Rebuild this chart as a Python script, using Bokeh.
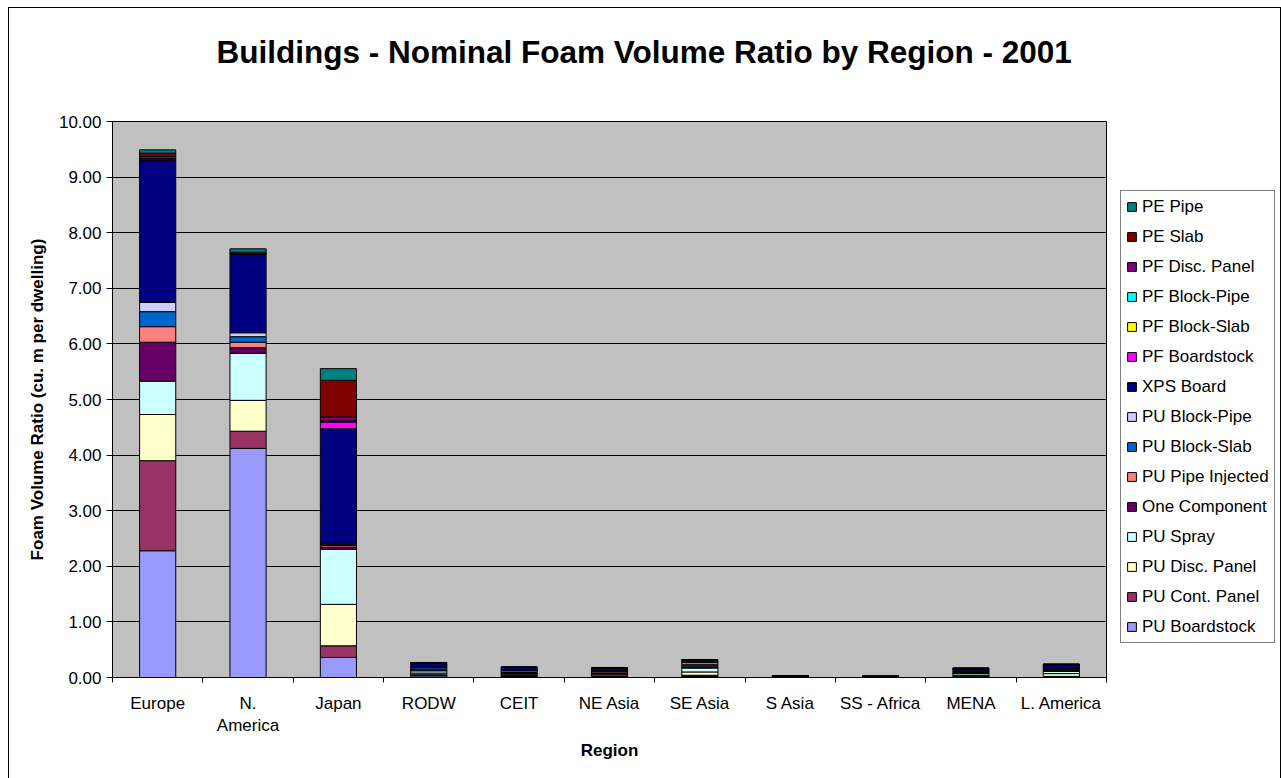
from bokeh.plotting import figure
from bokeh.models import (Legend, LegendItem, FixedTicker, NumeralTickFormatter,
                          Range1d, ColumnDataSource, InlineStyleSheet)
from bokeh.embed import file_html
from bokeh.resources import INLINE

# ---------------- data ----------------
categories = ["Europe", "N. America", "Japan", "RODW", "CEIT", "NE Asia",
              "SE Asia", "S Asia", "SS - Africa", "MENA", "L. America"]
tick_labels = ["Europe", "N.\nAmerica", "Japan", "RODW", "CEIT", "NE Asia",
               "SE Asia", "S Asia", "SS - Africa", "MENA", "L. America"]
chart_title = "Buildings - Nominal Foam Volume Ratio by Region - 2001"

# stack order: bottom -> top
pu_boardstock    = [2.28, 4.12, 0.36, 0.03, 0.02, 0.01, 0.02, 0.005, 0.003, 0.01, 0.01]
pu_cont_panel    = [1.62, 0.31, 0.21, 0.02, 0.02, 0.01, 0.02, 0.003, 0.002, 0.01, 0.01]
pu_disc_panel    = [0.83, 0.555, 0.745, 0.03, 0.01, 0.01, 0.06, 0.005, 0.003, 0.02, 0.05]
pu_spray         = [0.60, 0.845, 0.99, 0.04, 0.02, 0.03, 0.07, 0.005, 0.003, 0.03, 0.04]
one_component    = [0.70, 0.10, 0.04, 0.02, 0.02, 0.01, 0.02, 0.003, 0.002, 0.01, 0.02]
pu_pipe_injected = [0.28, 0.10, 0.03, 0.01, 0.03, 0.03, 0.02, 0.003, 0.002, 0.01, 0.01]
pu_block_slab    = [0.27, 0.10, 0.02, 0.03, 0.01, 0.01, 0.03, 0.003, 0.002, 0.02, 0.02]
pu_block_pipe    = [0.165, 0.07, 0.02, 0.01, 0.01, 0.01, 0.03, 0.002, 0.001, 0.01, 0.01]
xps_board        = [2.555, 1.42, 2.06, 0.07, 0.04, 0.05, 0.04, 0.005, 0.003, 0.04, 0.06]
pf_boardstock    = [0.03, 0.0, 0.12, 0.0, 0.0, 0.0, 0.0, 0.0, 0.0, 0.0, 0.0]
pf_block_slab    = [0.0, 0.0, 0.01, 0.0, 0.0, 0.0, 0.0, 0.0, 0.0, 0.0, 0.0]
pf_block_pipe    = [0.0, 0.0, 0.01, 0.0, 0.0, 0.0, 0.0, 0.0, 0.0, 0.0, 0.0]
pf_disc_panel    = [0.04, 0.0, 0.07, 0.0, 0.0, 0.0, 0.0, 0.0, 0.0, 0.0, 0.0]
pe_slab          = [0.06, 0.03, 0.66, 0.01, 0.01, 0.01, 0.01, 0.0, 0.0, 0.01, 0.01]
pe_pipe          = [0.06, 0.06, 0.21, 0.0, 0.0, 0.0, 0.0, 0.0, 0.0, 0.0, 0.0]

series_names = ["PU Boardstock", "PU Cont. Panel", "PU Disc. Panel", "PU Spray",
                "One Component", "PU Pipe Injected", "PU Block-Slab", "PU Block-Pipe",
                "XPS Board", "PF Boardstock", "PF Block-Slab", "PF Block-Pipe",
                "PF Disc. Panel", "PE Slab", "PE Pipe"]
series_values = [pu_boardstock, pu_cont_panel, pu_disc_panel, pu_spray, one_component,
                 pu_pipe_injected, pu_block_slab, pu_block_pipe, xps_board, pf_boardstock,
                 pf_block_slab, pf_block_pipe, pf_disc_panel, pe_slab, pe_pipe]
series_colors = ["#9999FF", "#993366", "#FFFFCC", "#CCFFFF", "#660066", "#FF8080",
                 "#0066CC", "#CCCCFF", "#000080", "#FF00FF", "#FFFF00", "#00FFFF",
                 "#800080", "#800000", "#008080"]

y_ticks = [0, 1, 2, 3, 4, 5, 6, 7, 8, 9, 10]

FONT = "Liberation Sans"

# ---------------- figure ----------------
xs = [i + 0.5 for i in range(len(categories))]
keys = ["s%d" % i for i in range(len(series_names))]
data = {"x": xs, "region": categories}
for k, v in zip(keys, series_values):
    data[k] = v
source = ColumnDataSource(data)

p = figure(frame_width=994, frame_height=556,
           min_border_left=112, min_border_right=175,
           min_border_top=121, min_border_bottom=101,
           x_range=Range1d(0, len(categories)), y_range=Range1d(0, 10),
           title=chart_title,
           output_backend="svg", toolbar_location=None)
p.title.align = "left"
p.title.offset = 104
p.title.text_font = FONT
p.title.text_font_size = "31.5px"
p.title.text_font_style = "bold"
p.title.text_color = "black"
try:
    p.title.padding = dict(left=0, right=0, top=0, bottom=40)
    p.title.standoff = 24
except Exception:
    p.title.text = chart_title + "\n "
    p.title.standoff = 36

p.background_fill_color = "#C0C0C0"
p.border_fill_color = "white"
p.outline_line_color = "black"
p.outline_line_width = 1
p.stylesheets = [InlineStyleSheet(css=(
    ":host::after{content:'';position:absolute;left:8px;top:7px;width:1273px;"
    "height:800px;border:1px solid black;box-sizing:border-box;"
    "pointer-events:none;z-index:10;}"))]

renderers = p.vbar_stack(keys, x="x", width=0.4, source=source,
                         fill_color=series_colors, line_color="black", line_width=1)

# grid
p.xgrid.visible = False
p.ygrid.grid_line_color = "black"
p.ygrid.grid_line_width = 1

# x axis
xa = p.xaxis[0]
xa.ticker = FixedTicker(ticks=xs, minor_ticks=list(range(0, len(categories) + 1)))
xa.major_label_overrides = {x: lab for x, lab in zip(xs, tick_labels)}
xa.major_tick_in = 0
xa.major_tick_out = 0
xa.minor_tick_in = 0
xa.minor_tick_out = 5
xa.minor_tick_line_color = "black"
xa.axis_line_color = "black"
xa.major_label_text_font = FONT
xa.major_label_text_font_size = "17px"
xa.major_label_text_color = "black"
xa.major_label_standoff = 11
xa.axis_label = "Region"
xa.axis_label_text_font = FONT
xa.axis_label_text_font_size = "17px"
xa.axis_label_text_font_style = "bold"
xa.axis_label_text_color = "black"
xa.axis_label_standoff = 3

# y axis
ya = p.yaxis[0]
ya.ticker = FixedTicker(ticks=y_ticks)
ya.formatter = NumeralTickFormatter(format="0.00")
ya.major_tick_in = 0
ya.major_tick_out = 6
ya.minor_tick_line_color = None
ya.axis_line_color = "black"
ya.major_tick_line_color = "black"
ya.major_label_text_font = FONT
ya.major_label_text_font_size = "17px"
ya.major_label_text_color = "black"
ya.major_label_standoff = 5
ya.axis_label = "Foam Volume Ratio (cu. m per dwelling)"
ya.axis_label_text_font = FONT
ya.axis_label_text_font_size = "17px"
ya.axis_label_text_font_style = "bold"
ya.axis_label_text_color = "black"
ya.axis_label_standoff = 9

# legend (top item = last series)
items = [LegendItem(label=n, renderers=[r]) for n, r in zip(series_names, renderers)]
items.reverse()
legend = Legend(items=items, location=(14, 34),
                label_text_font=FONT, label_text_font_size="17px",
                label_text_color="black",
                glyph_width=11, glyph_height=11, label_height=21, label_standoff=5,
                spacing=9, padding=5, margin=0,
                border_line_color="black", border_line_width=1,
                background_fill_color="white", background_fill_alpha=1)
p.add_layout(legend, "right")

open("out.html", "w").write(file_html(p, INLINE))
